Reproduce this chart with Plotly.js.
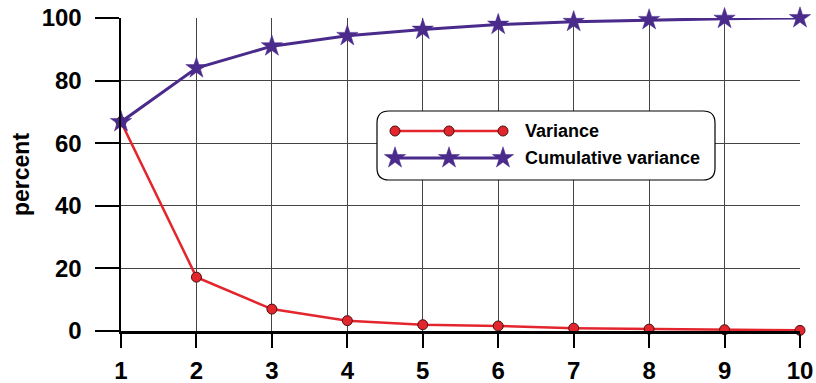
<!DOCTYPE html>
<html>
<head>
<meta charset="utf-8">
<script src="https://cdn.plot.ly/plotly-3.0.1.min.js"></script>
<style>html,body{margin:0;padding:0;background:#fff;}</style>
</head>
<body>
<div id="chart" style="width:816px;height:383px;"></div>
<script>
// Principal components and the share of variance each one explains (percent)
const components = [1, 2, 3, 4, 5, 6, 7, 8, 9, 10];
const variance = [66.8, 17.2, 7.0, 3.3, 2.0, 1.6, 0.9, 0.6, 0.4, 0.2];
const cumulativeVariance = [66.8, 84.0, 91.0, 94.3, 96.3, 97.9, 98.8, 99.4, 99.8, 100.0];
const yTicks = [0, 20, 40, 60, 80, 100];
const seriesNames = ['Variance', 'Cumulative variance'];

const RED = '#e3262d';
const PURPLE = '#4a2b8c';
const FONT = 'Liberation Sans, Arial, sans-serif';

// Plot area in pixels (used for the hand-built legend box)
const M = {l: 121, r: 16, t: 18, b: 52};
const W = 816, H = 383;
const plotW = W - M.l - M.r, plotH = H - M.t - M.b;
const pxToX = px => 1 + (px - M.l) * 9 / plotW;
const pxToY = py => (H - M.b - py) * 100 / plotH;

// Legend key layout, in pixels on an overlay axis
const keyRows = [131, 158];
const keySampleX = [395, 449, 503];
const keyTextX = 523;
const box = {cx: 546, cy: 145.5, hw: 169, hh: 34.5, r: 12};

const redStyle = {
  mode: 'lines+markers',
  line: {color: RED, width: 2.5},
  marker: {symbol: 'circle', size: 10, color: RED, line: {color: '#4a1010', width: 1}}
};
const purpleStyle = {
  mode: 'lines+markers',
  line: {color: PURPLE, width: 3},
  marker: {symbol: 'star', size: 16, color: PURPLE, line: {color: PURPLE, width: 0.5}}
};

const traces = [
  Object.assign({x: components, y: variance, name: seriesNames[0], cliponaxis: false}, redStyle),
  Object.assign({x: components, y: cumulativeVariance, name: seriesNames[1], cliponaxis: false}, purpleStyle),
  // legend key samples
  Object.assign({x: keySampleX, y: keySampleX.map(() => keyRows[0]), xaxis: 'x2', yaxis: 'y2', hoverinfo: 'skip'}, redStyle),
  Object.assign({x: keySampleX, y: keySampleX.map(() => keyRows[1]), xaxis: 'x2', yaxis: 'y2', hoverinfo: 'skip'}, purpleStyle)
];

const {hw, hh, r} = box;
const roundRect = `M ${-hw + r},${-hh} L ${hw - r},${-hh} Q ${hw},${-hh} ${hw},${-hh + r} ` +
  `L ${hw},${hh - r} Q ${hw},${hh} ${hw - r},${hh} L ${-hw + r},${hh} Q ${-hw},${hh} ${-hw},${hh - r} ` +
  `L ${-hw},${-hh + r} Q ${-hw},${-hh} ${-hw + r},${-hh} Z`;

const layout = {
  width: W, height: H,
  margin: M,
  paper_bgcolor: '#fff',
  plot_bgcolor: '#fff',
  showlegend: false,
  font: {family: FONT, color: '#000'},
  xaxis: {
    range: [1, 10],
    tickvals: components,
    ticktext: components.map(String),
    showgrid: true, gridcolor: '#444', gridwidth: 1,
    zeroline: false,
    showline: true, linecolor: '#000', linewidth: 2.5,
    ticks: 'outside', ticklen: 14, tickwidth: 2, tickcolor: '#000',
    ticklabelstandoff: 3,
    tickfont: {family: FONT, size: 24, weight: 'bold', color: '#000'},
    fixedrange: true
  },
  yaxis: {
    range: [0, 100],
    tickvals: yTicks,
    ticktext: yTicks.map(String),
    showgrid: true, gridcolor: '#444', gridwidth: 1,
    zeroline: false,
    showline: true, linecolor: '#000', linewidth: 2.5,
    ticks: 'outside', ticklen: 24, tickwidth: 2, tickcolor: '#000',
    ticklabelstandoff: 8,
    tickfont: {family: FONT, size: 24, weight: 'bold', color: '#000'},
    title: {text: 'percent', font: {family: FONT, size: 23, weight: 'bold', color: '#000'}, standoff: 6},
    fixedrange: true
  },
  xaxis2: {overlaying: 'x', anchor: 'y2', range: [M.l, W - M.r], visible: false, fixedrange: true},
  yaxis2: {overlaying: 'y', anchor: 'x2', range: [H - M.b, M.t], visible: false, fixedrange: true},
  shapes: [{
    type: 'path', layer: 'between',
    xref: 'x', yref: 'y',
    xsizemode: 'pixel', ysizemode: 'pixel',
    xanchor: pxToX(box.cx), yanchor: pxToY(box.cy),
    path: roundRect,
    fillcolor: '#fff',
    line: {color: '#000', width: 1.2}
  }],
  annotations: seriesNames.map((name, i) => ({
    xref: 'x2', yref: 'y2', x: keyTextX, y: keyRows[i],
    xanchor: 'left', yanchor: 'middle', showarrow: false,
    text: name,
    font: {family: FONT, size: 18, weight: 'bold', color: '#000'}
  }))
};

Plotly.newPlot('chart', traces, layout, {displayModeBar: false, staticPlot: true});
</script>
</body>
</html>
